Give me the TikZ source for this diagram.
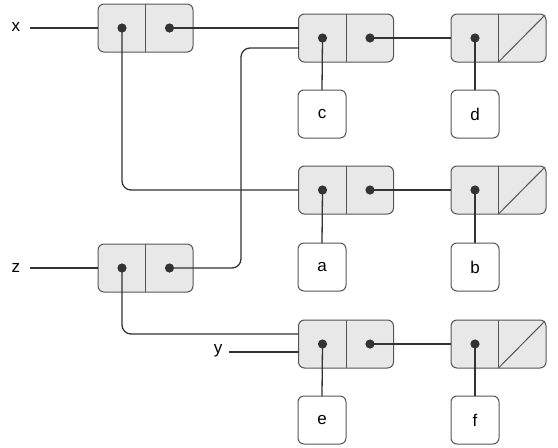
\documentclass[tikz,border=0pt]{standalone}
\usepackage{fontspec}
\setmainfont{Liberation Sans}
\definecolor{boxc}{HTML}{555555}
\definecolor{fillc}{HTML}{E8E8E8}
\definecolor{linec}{HTML}{333333}
\tikzset{
  cons/.style={draw=boxc, fill=fillc, rounded corners=6pt, minimum width=95pt, minimum height=48pt, inner sep=0pt, outer sep=0pt, line width=1pt},
  atom/.style={draw=boxc, fill=white, rounded corners=6pt, minimum width=48pt, minimum height=48pt, inner sep=0pt, outer sep=0pt, line width=1pt, font=\fontsize{17}{20}\selectfont},
  lbl/.style={font=\fontsize{17}{20}\selectfont, inner sep=0pt, outer sep=7pt},
  link/.style={draw=linec, line width=1.3pt, rounded corners=9pt},
  divider/.style={draw=boxc, line width=1pt},
  dot/.style={fill=linec}
}
\newcommand\conscell[3]{%
  \node[cons] (#1) at (#2,#3) {};
  \draw[divider] (#1.north) -- (#1.south);
  \coordinate (#1a) at ([xshift=-23.5pt]#1.center);
  \coordinate (#1d) at ([xshift=24pt]#1.center);
}
\newcommand\nilcell[3]{%
  \conscell{#1}{#2}{#3}
  \draw[divider] (#1.south) -- ([xshift=-1pt,yshift=-1pt]#1.north east);
}
\begin{document}
\begin{tikzpicture}[x=1pt,y=-1pt]
\useasboundingbox (0,0) rectangle (558,448);
% cells
\conscell{xc}{145.5}{28}
\conscell{ra}{346}{38}
\nilcell{rb}{498.5}{38}
\conscell{sa}{346}{190}
\nilcell{sb}{498.5}{190}
\conscell{zc}{145.5}{268}
\conscell{ta}{346}{344}
\nilcell{tb}{498.5}{344}
% atoms
\node[atom] (c) at (322,114) {c};
\node[atom] (d) at (475,114) {d};
\node[atom] (a) at (322,267) {a};
\node[atom] (b) at (475,267) {b};
\node[atom] (e) at (322,420) {e};
\node[atom] (f) at (475,420) {f};
% labels
\node[lbl, outer sep=10pt] (xl) at (16,27) {x};
\node[lbl, outer sep=10pt] (zl) at (16,268) {z};
\node[lbl] (yl) at (218,351) {y};
\coordinate (zbend) at (241,48);
% links
\draw[link] (xl.east |- xc.west) -- (xc.west);
\draw[link] (zl.east |- zc.west) -- (zc.west);
\draw[link] (yl.east |- ta.west) ++(0,8) -- ([yshift=-8pt]ta.west);
\draw[link] (xcd) -- ([yshift=10pt]ra.west);
\draw[link] (xca) |- (sa.west);
\draw[link] (zcd) -| (zbend) -- ([yshift=-10pt]ra.west);
\draw[link] (zca) |- ([yshift=10pt]ta.west);
\draw[link] (rad) -- (rb.west);
\draw[link] (sad) -- (sb.west);
\draw[link] (tad) -- (tb.west);
\draw[link] (raa) -- (c.north);
\draw[link] (rba) -- (d.north);
\draw[link] (saa) -- (a.north);
\draw[link] (sba) -- (b.north);
\draw[link] (taa) -- (e.north);
\draw[link] (tba) -- (f.north);
% dots
\foreach \p in {xca,xcd,raa,rad,rba,saa,sad,sba,zca,zcd,taa,tad,tba}
  \fill[dot] (\p) circle (4.6pt);
\end{tikzpicture}
\end{document}
